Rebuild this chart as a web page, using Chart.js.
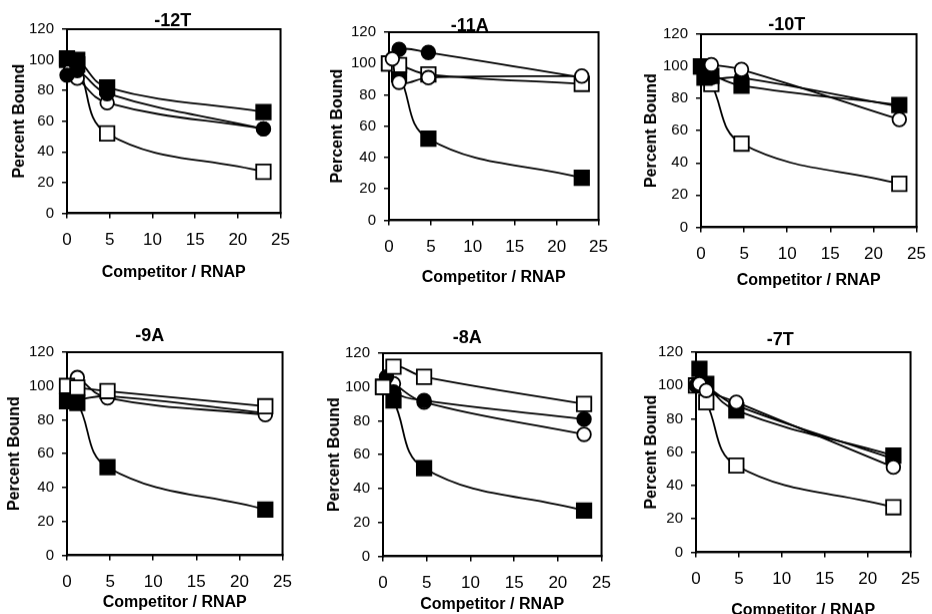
<!DOCTYPE html>
<html>
<head>
<meta charset="utf-8">
<script src="https://cdn.jsdelivr.net/npm/chart.js@4.4.1/dist/chart.umd.min.js"></script>
<style>
body { margin: 0; width: 932px; height: 614px; background: #fff; position: relative; overflow: hidden; }
canvas { position: absolute; }
</style>
</head>
<body>
<script>
// competitor / RNAP ratios used in every panel
const competitor = [0, 0.4, 1.2, 4.7, 23];
const xTickValues = [0, 5, 10, 15, 20, 25];
const yTickValues = [0, 20, 40, 60, 80, 100, 120];
const panelTitles = ["-12T", "-11A", "-10T", "-9A", "-8A", "-7T"];

// percent bound, one row per panel (null = no point)
const openSquare = [
	[100, null, 97, 52, 27],
	[100, null, 99, 93, 87],
	[100, null, 89, 52, 27],
	[100, null, 99, 97, 88],
	[100, null, 112, 106, 90],
	[100, null, 90, 52, 27],
];
const filledSquare = [
	[101, null, 100, 82, 66],
	[100, null, 93, 52, 27],
	[100, 93, 94, 88, 76],
	[91, null, 90, 52, 27],
	[100, null, 92, 52, 27],
	[null, 110, 101, 85, 58],
];
const openCircle = [
	[null, 93, 88, 72, 55],
	[null, 103, 88, 91, 92],
	[null, null, 101, 98, 67],
	[null, null, 105, 93, 83],
	[null, null, 102, 91, 72],
	[null, 101, 97, 90, 51],
];
const filledCircle = [
	[90, null, 93, 78, 55],
	[null, 101, 109, 107, 91],
	[99, null, 93, 93, 75],
	[92, null, 92, 94, 84],
	[null, 106, 97, 92, 81],
	[100, null, 99, 88, 56],
];

const seriesValues = { openSquare, filledSquare, openCircle, filledCircle };
const seriesStyle = {
	openSquare: { pointStyle: "rect", radius: 10.2, fill: "#fff" },
	filledSquare: { pointStyle: "rect", radius: 10.2, fill: "#000" },
	openCircle: { pointStyle: "circle", radius: 6.8, fill: "#fff" },
	filledCircle: { pointStyle: "circle", radius: 6.8, fill: "#000" },
};

// which series sits on top in each panel (first = top-most)
const stacking = [
	["filledSquare", "filledCircle", "openCircle", "openSquare"],
	["openCircle", "openSquare", "filledCircle", "filledSquare"],
	["openCircle", "filledSquare", "filledCircle", "openSquare"],
	["openSquare", "openCircle", "filledSquare", "filledCircle"],
	["openSquare", "filledSquare", "filledCircle", "openCircle"],
	["openCircle", "filledSquare", "filledCircle", "openSquare"],
];

// plot frame of each panel on the page: left, top, right, bottom
const plotBoxes = [
	[67, 29, 287, 213],
	[389, 32, 605, 220],
	[701, 34, 923, 227],
	[67, 352, 289, 555],
	[383, 353, 608, 556],
	[696, 352, 917, 552],
];
const titleShift = [[-1, 8], [-24, 6], [-22, 9], [-25, 16], [-25, 15], [-23, 12]];
const yTitleGap = [47, 51, 49, 52, 48, 44];
const xTitleGap = [59, 57, 53, 47, 48, 58];

const Y_AXIS_W = 67;
const TOP_PAD = 40;
const RIGHT_PAD = 15;
const Y_TITLE_LH = 16 * 1.2;

const framePlugin = {
	id: "frame",
	beforeDatasetsDraw(chart) {
		const { ctx, chartArea: a } = chart;
		ctx.save();
		ctx.strokeStyle = "#000";
		ctx.lineWidth = 2;
		ctx.strokeRect(a.left, a.top, a.width, a.height);
		ctx.restore();
	},
};

const titlePlugin = {
	id: "panelTitle",
	afterDraw(chart, args, opts) {
		const { ctx, chartArea: a } = chart;
		ctx.save();
		ctx.font = 'bold 18px "Liberation Sans", Arial, sans-serif';
		ctx.fillStyle = "#000";
		ctx.textAlign = "center";
		ctx.textBaseline = "middle";
		ctx.fillText(opts.text, (a.left + a.right) / 2 + opts.dx, a.top - opts.dy);
		ctx.restore();
	},
};

function makeDataset(key, p) {
	const s = seriesStyle[key];
	const data = competitor
		.map((x, i) => ({ x: x, y: seriesValues[key][p][i] }))
		.filter((d) => d.y !== null);
	return {
		label: key,
		data: data,
		borderColor: "#000",
		borderWidth: 1.8,
		backgroundColor: s.fill,
		pointStyle: s.pointStyle,
		pointRadius: s.radius,
		pointBorderWidth: 1.8,
		pointBorderColor: "#000",
		pointBackgroundColor: s.fill,
		tension: 0.4,
		fill: false,
		clip: false,
	};
}

function buildPanel(p) {
	const [L, T, R, B] = plotBoxes[p];
	const xH = xTitleGap[p] + Y_TITLE_LH / 2 + 2;
	const canvas = document.createElement("canvas");
	const w = R - L + Y_AXIS_W + RIGHT_PAD;
	const h = B - T + TOP_PAD + xH;
	canvas.width = w;
	canvas.height = h;
	canvas.style.left = L - Y_AXIS_W + "px";
	canvas.style.top = T - TOP_PAD + "px";
	canvas.style.width = w + "px";
	canvas.style.height = h + "px";
	document.body.appendChild(canvas);

	new Chart(canvas.getContext("2d"), {
		type: "line",
		data: { datasets: stacking[p].map((k) => makeDataset(k, p)) },
		options: {
			responsive: false,
			animation: false,
			devicePixelRatio: 1,
			layout: { padding: { top: TOP_PAD, right: RIGHT_PAD, left: 0, bottom: 0 } },
			scales: {
				x: {
					type: "linear",
					min: 0,
					max: 25,
					afterBuildTicks: (s) => {
						s.ticks = xTickValues.map((v) => ({ value: v }));
					},
					afterFit: (s) => {
						s.height = xH;
					},
					ticks: {
						color: "#000",
						padding: 12,
						font: { family: "Liberation Sans", size: 17 },
					},
					grid: { drawOnChartArea: false, color: "#000", tickLength: 5, lineWidth: 1.5 },
					border: { color: "#000", width: 2 },
					title: {
						display: true,
						text: "Competitor / RNAP",
						color: "#000",
						font: { family: "Liberation Sans", size: 16, weight: "bold" },
						padding: { top: 0, bottom: 2 },
					},
				},
				y: {
					type: "linear",
					min: 0,
					max: 120,
					afterBuildTicks: (s) => {
						s.ticks = yTickValues.map((v) => ({ value: v }));
					},
					afterFit: (s) => {
						s.width = Y_AXIS_W;
					},
					ticks: {
						color: "#000",
						padding: 8,
						font: { family: "Liberation Sans", size: 15 },
					},
					grid: { drawOnChartArea: false, color: "#000", tickLength: 5, lineWidth: 1.5 },
					border: { color: "#000", width: 2 },
					title: {
						display: true,
						text: "Percent Bound",
						color: "#000",
						font: { family: "Liberation Sans", size: 16, weight: "bold" },
						padding: { top: Y_AXIS_W - yTitleGap[p] - Y_TITLE_LH / 2, bottom: 0 },
					},
				},
			},
			plugins: {
				legend: { display: false },
				tooltip: { enabled: false },
				panelTitle: { text: panelTitles[p], dx: titleShift[p][0], dy: titleShift[p][1] },
			},
		},
		plugins: [framePlugin, titlePlugin],
	});
}

for (let p = 0; p < panelTitles.length; p++) {
	buildPanel(p);
}
</script>
</body>
</html>
